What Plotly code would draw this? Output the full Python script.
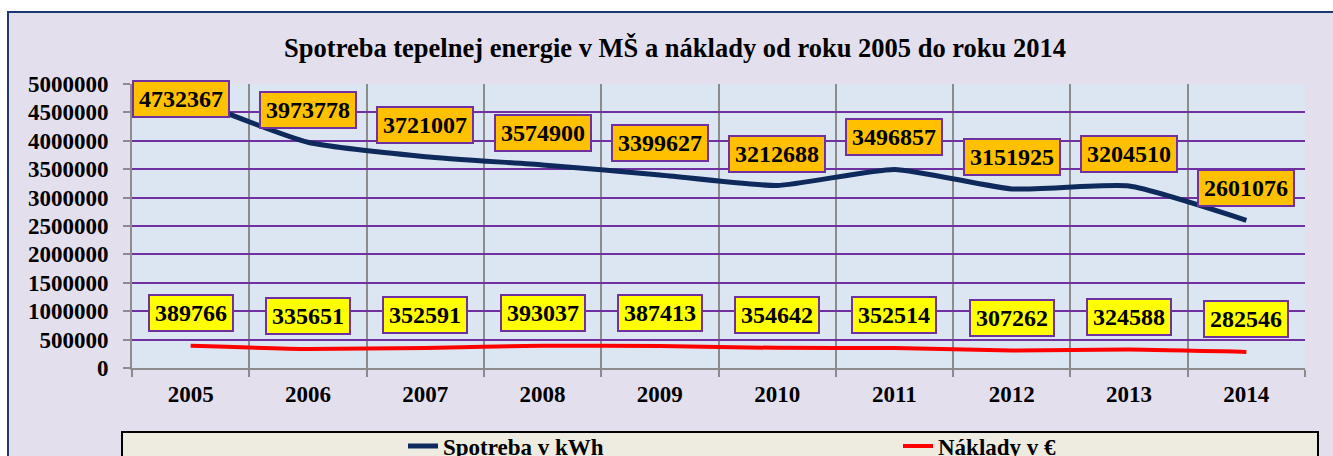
import plotly.graph_objects as go

# Data
years = ["2005", "2006", "2007", "2008", "2009", "2010", "2011", "2012", "2013", "2014"]
spotreba_kwh = [4732367, 3973778, 3721007, 3574900, 3399627, 3212688, 3496857, 3151925, 3204510, 2601076]
naklady_eur = [389766, 335651, 352591, 393037, 387413, 354642, 352514, 307262, 324588, 282546]
y_ticks = [0, 500000, 1000000, 1500000, 2000000, 2500000, 3000000, 3500000, 4000000, 4500000, 5000000]

W, H = 1333, 456
ML, MR, MT, MB = 132, 28, 84, 88
PW, PH = W - ML - MR, H - MT - MB
Y_MAX = 5000000

FONT = "Liberation Serif"
NAVY = "#0E2A5C"
RED = "#FF0000"
PURPLE = "#7030A0"
GRAY = "#8C8C8C"


def px_x(p):
    return (p - ML) / PW


def px_y(p):
    return (H - MB - p) / PH


fig = go.Figure()

fig.add_trace(go.Scatter(
    x=years, y=spotreba_kwh, name="Spotreba v kWh", mode="lines",
    line=dict(color=NAVY, width=5, shape="spline", smoothing=0.5),
))
fig.add_trace(go.Scatter(
    x=years, y=naklady_eur, name="Náklady v €", mode="lines",
    line=dict(color=RED, width=4, shape="spline", smoothing=0.5),
))


def label_shift(v, offset):
    # keep the label box inside the top of the plot area
    dist_top = (Y_MAX - v) / Y_MAX * PH
    return min(offset, dist_top - 15)


annotations = []
for i, v in enumerate(spotreba_kwh):
    sy = label_shift(v, 32)
    annotations.append(dict(
        x=i, y=v, xref="x", yref="y", text=str(v), showarrow=False,
        yshift=sy, xshift=-10 if sy < 32 else 0,
        bgcolor="#FFC000", bordercolor=PURPLE,
        borderwidth=2, borderpad=3, width=88, height=28,
        font=dict(family=FONT, size=24, color="black", weight="bold"),
    ))
for i, v in enumerate(naklady_eur):
    annotations.append(dict(
        x=i, y=v, xref="x", yref="y", text=str(v), showarrow=False,
        yshift=33, bgcolor="#FFFF00", bordercolor=PURPLE,
        borderwidth=2, borderpad=3, width=76, height=28,
        font=dict(family=FONT, size=24, color="black", weight="bold"),
    ))

shapes = [
    # outer chart frame
    dict(type="rect", xref="paper", yref="paper", layer="below",
         x0=px_x(8), x1=px_x(W + 10), y0=px_y(H + 10), y1=px_y(12),
         fillcolor="#E4DFEC", line=dict(color="#1F3A73", width=2)),
    # plot area background
    dict(type="rect", xref="paper", yref="paper", layer="below",
         x0=0, x1=1, y0=0, y1=1, fillcolor="#DCE6F2", line=dict(width=0)),
    # legend box
    dict(type="rect", xref="paper", yref="paper", layer="below",
         x0=px_x(122), x1=px_x(1318), y0=px_y(H + 10), y1=px_y(432),
         fillcolor="#EEECE1", line=dict(color="black", width=2)),
]

fig.update_layout(
    width=W, height=H,
    margin=dict(l=ML, r=MR, t=MT, b=MB, autoexpand=False),
    paper_bgcolor="white",
    plot_bgcolor="rgba(0,0,0,0)",
    font=dict(family=FONT, color="black", weight="bold"),
    title=dict(
        text="Spotreba tepelnej energie v MŠ a náklady od roku 2005 do roku 2014",
        x=675 / W, xanchor="center", y=1 - 48 / H, yanchor="middle",
        font=dict(family=FONT, size=26.5, color="black", weight="bold"),
    ),
    xaxis=dict(
        type="category", range=[-0.5, len(years) - 0.5], autorange=False,
        tickson="boundaries", showgrid=True, gridcolor=GRAY, gridwidth=2,
        showline=True, linecolor=GRAY, linewidth=2, mirror=False,
        ticks="outside", ticklen=7, tickcolor=GRAY, tickwidth=2,
        tickfont=dict(family=FONT, size=23, color="black", weight="bold"),
        ticklabelstandoff=4, zeroline=False,
    ),
    yaxis=dict(
        range=[0, Y_MAX], autorange=False, tickvals=y_ticks, ticktext=[str(t) for t in y_ticks],
        showgrid=True, gridcolor=PURPLE, gridwidth=2,
        showline=True, linecolor=GRAY, linewidth=2,
        ticks="outside", ticklen=7, tickcolor=GRAY, tickwidth=2,
        tickfont=dict(family=FONT, size=23, color="black", weight="bold"),
        ticklabelstandoff=10, zeroline=False,
    ),
    legend=dict(
        orientation="h", x=px_x(403), xanchor="left", y=px_y(446), yanchor="middle",
        bgcolor="rgba(0,0,0,0)", borderwidth=0, entrywidth=450, entrywidthmode="pixels",
        font=dict(family=FONT, size=23, color="black", weight="bold"),
    ),
    annotations=annotations,
    shapes=shapes,
)

fig.write_html("out.html")
